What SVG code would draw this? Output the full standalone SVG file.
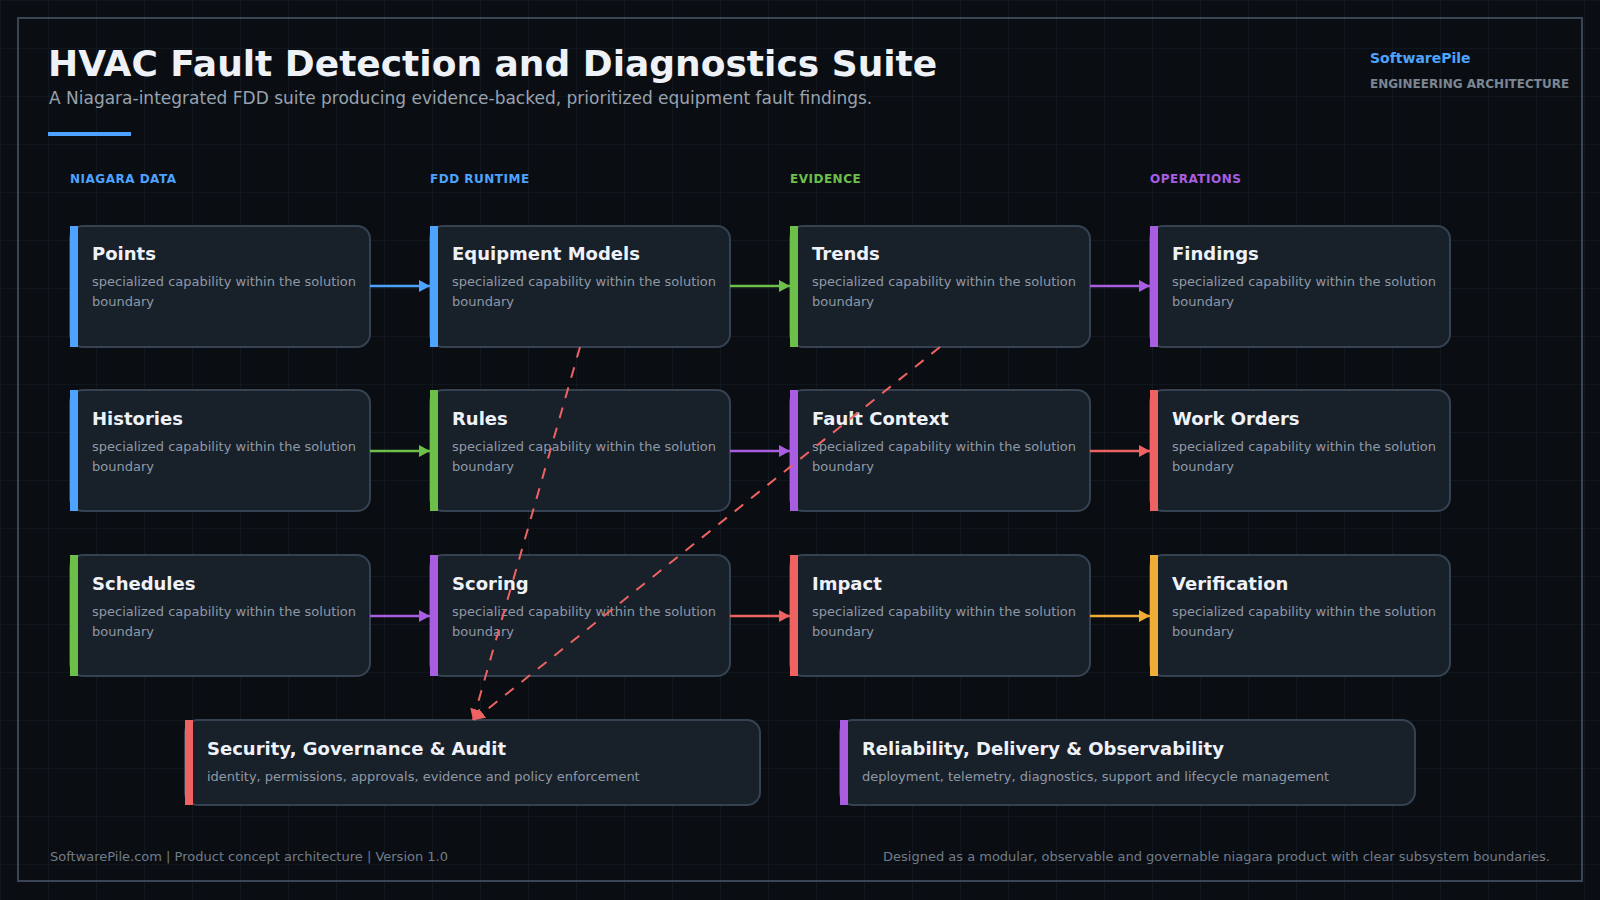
<svg xmlns="http://www.w3.org/2000/svg" width="1600" height="900" viewBox="0 0 1600 900">
  <defs>
    <pattern id="grid" width="48" height="48" patternUnits="userSpaceOnUse">
      <path d="M48 0 H0 V48" fill="none" stroke="#151e28" stroke-width="1.2"/>
    </pattern>
    <marker id="ah-blue" markerUnits="userSpaceOnUse" markerWidth="12" markerHeight="12" refX="11" refY="6" orient="auto"><path d="M0,0 L11,6 L0,12 z" fill="#4da3ff"/></marker>
    <marker id="ah-green" markerUnits="userSpaceOnUse" markerWidth="12" markerHeight="12" refX="11" refY="6" orient="auto"><path d="M0,0 L11,6 L0,12 z" fill="#6cc04a"/></marker>
    <marker id="ah-purple" markerUnits="userSpaceOnUse" markerWidth="12" markerHeight="12" refX="11" refY="6" orient="auto"><path d="M0,0 L11,6 L0,12 z" fill="#a95ee2"/></marker>
    <marker id="ah-red" markerUnits="userSpaceOnUse" markerWidth="12" markerHeight="12" refX="11" refY="6" orient="auto"><path d="M0,0 L11,6 L0,12 z" fill="#ee6361"/></marker>
    <marker id="ah-orange" markerUnits="userSpaceOnUse" markerWidth="12" markerHeight="12" refX="11" refY="6" orient="auto"><path d="M0,0 L11,6 L0,12 z" fill="#f0ad35"/></marker>
  </defs>
  <style>
    text { font-family: "DejaVu Sans", Verdana, sans-serif; }
    .title { font-size: 36px; font-weight: bold; fill: #eef2f7; }
    .subtitle { font-size: 17px; fill: #98a2ae; }
    .brand { font-size: 14px; font-weight: bold; fill: #4da3ff; }
    .brand2 { font-size: 12px; font-weight: bold; fill: #7c8693; }
    .colhead { font-size: 12px; font-weight: bold; letter-spacing: 0.5px; }
    .card { fill: #18202a; stroke: #354251; stroke-width: 2; }
    .ctitle { font-size: 18px; font-weight: bold; fill: #eef2f8; }
    .cdesc { font-size: 13px; fill: #8e99a6; }
    .footer { font-size: 13px; fill: #717c89; }
    .blue { fill: #4da3ff; }
    .green { fill: #6cc04a; }
    .purple { fill: #a95ee2; }
    .red { fill: #ee6361; }
    .orange { fill: #f0ad35; }
    .conn { fill: none; stroke-width: 2.6; }
    .dash { fill: none; stroke: #ee6361; stroke-width: 2; stroke-dasharray: 11 10; }
  </style>

  <rect x="0" y="0" width="1600" height="900" fill="#0a0e13"/>
  <rect x="0" y="0" width="1600" height="900" fill="url(#grid)"/>
  <rect x="18" y="18" width="1564" height="863" fill="none" stroke="#3a4656" stroke-width="2"/>

  <g id="header">
    <text class="title" x="48" y="76">HVAC Fault Detection and Diagnostics Suite</text>
    <text class="subtitle" x="49" y="104">A Niagara-integrated FDD suite producing evidence-backed, prioritized equipment fault findings.</text>
    <rect x="48" y="132" width="83" height="4" fill="#4da3ff"/>
    <text class="brand" x="1370" y="63">SoftwarePile</text>
    <text class="brand2" x="1370" y="88">ENGINEERING ARCHITECTURE</text>
  </g>

  <g id="column-headers">
    <text class="colhead blue" x="70" y="183">NIAGARA DATA</text>
    <text class="colhead blue" x="430" y="183">FDD RUNTIME</text>
    <text class="colhead green" x="790" y="183">EVIDENCE</text>
    <text class="colhead purple" x="1150" y="183">OPERATIONS</text>
  </g>

  <g id="nodes">
    <g id="points">
      <rect class="card" x="70" y="226" width="300" height="121" rx="13"/>
      <rect class="blue" x="70" y="226" width="8" height="121"/>
      <text class="ctitle" x="92" y="260">Points</text>
      <text class="cdesc" x="92" y="286">specialized capability within the solution</text>
      <text class="cdesc" x="92" y="306">boundary</text>
    </g>
    <g id="histories">
      <rect class="card" x="70" y="390" width="300" height="121" rx="13"/>
      <rect class="blue" x="70" y="390" width="8" height="121"/>
      <text class="ctitle" x="92" y="425">Histories</text>
      <text class="cdesc" x="92" y="451">specialized capability within the solution</text>
      <text class="cdesc" x="92" y="471">boundary</text>
    </g>
    <g id="schedules">
      <rect class="card" x="70" y="555" width="300" height="121" rx="13"/>
      <rect class="green" x="70" y="555" width="8" height="121"/>
      <text class="ctitle" x="92" y="590">Schedules</text>
      <text class="cdesc" x="92" y="616">specialized capability within the solution</text>
      <text class="cdesc" x="92" y="636">boundary</text>
    </g>

    <g id="equipment-models">
      <rect class="card" x="430" y="226" width="300" height="121" rx="13"/>
      <rect class="blue" x="430" y="226" width="8" height="121"/>
      <text class="ctitle" x="452" y="260">Equipment Models</text>
      <text class="cdesc" x="452" y="286">specialized capability within the solution</text>
      <text class="cdesc" x="452" y="306">boundary</text>
    </g>
    <g id="rules">
      <rect class="card" x="430" y="390" width="300" height="121" rx="13"/>
      <rect class="green" x="430" y="390" width="8" height="121"/>
      <text class="ctitle" x="452" y="425">Rules</text>
      <text class="cdesc" x="452" y="451">specialized capability within the solution</text>
      <text class="cdesc" x="452" y="471">boundary</text>
    </g>
    <g id="scoring">
      <rect class="card" x="430" y="555" width="300" height="121" rx="13"/>
      <rect class="purple" x="430" y="555" width="8" height="121"/>
      <text class="ctitle" x="452" y="590">Scoring</text>
      <text class="cdesc" x="452" y="616">specialized capability within the solution</text>
      <text class="cdesc" x="452" y="636">boundary</text>
    </g>

    <g id="trends">
      <rect class="card" x="790" y="226" width="300" height="121" rx="13"/>
      <rect class="green" x="790" y="226" width="8" height="121"/>
      <text class="ctitle" x="812" y="260">Trends</text>
      <text class="cdesc" x="812" y="286">specialized capability within the solution</text>
      <text class="cdesc" x="812" y="306">boundary</text>
    </g>
    <g id="fault-context">
      <rect class="card" x="790" y="390" width="300" height="121" rx="13"/>
      <rect class="purple" x="790" y="390" width="8" height="121"/>
      <text class="ctitle" x="812" y="425">Fault Context</text>
      <text class="cdesc" x="812" y="451">specialized capability within the solution</text>
      <text class="cdesc" x="812" y="471">boundary</text>
    </g>
    <g id="impact">
      <rect class="card" x="790" y="555" width="300" height="121" rx="13"/>
      <rect class="red" x="790" y="555" width="8" height="121"/>
      <text class="ctitle" x="812" y="590">Impact</text>
      <text class="cdesc" x="812" y="616">specialized capability within the solution</text>
      <text class="cdesc" x="812" y="636">boundary</text>
    </g>

    <g id="findings">
      <rect class="card" x="1150" y="226" width="300" height="121" rx="13"/>
      <rect class="purple" x="1150" y="226" width="8" height="121"/>
      <text class="ctitle" x="1172" y="260">Findings</text>
      <text class="cdesc" x="1172" y="286">specialized capability within the solution</text>
      <text class="cdesc" x="1172" y="306">boundary</text>
    </g>
    <g id="work-orders">
      <rect class="card" x="1150" y="390" width="300" height="121" rx="13"/>
      <rect class="red" x="1150" y="390" width="8" height="121"/>
      <text class="ctitle" x="1172" y="425">Work Orders</text>
      <text class="cdesc" x="1172" y="451">specialized capability within the solution</text>
      <text class="cdesc" x="1172" y="471">boundary</text>
    </g>
    <g id="verification">
      <rect class="card" x="1150" y="555" width="300" height="121" rx="13"/>
      <rect class="orange" x="1150" y="555" width="8" height="121"/>
      <text class="ctitle" x="1172" y="590">Verification</text>
      <text class="cdesc" x="1172" y="616">specialized capability within the solution</text>
      <text class="cdesc" x="1172" y="636">boundary</text>
    </g>

    <g id="security">
      <rect class="card" x="185" y="720" width="575" height="85" rx="13"/>
      <rect class="red" x="185" y="720" width="8" height="85"/>
      <text class="ctitle" x="207" y="755">Security, Governance &amp; Audit</text>
      <text class="cdesc" x="207" y="781">identity, permissions, approvals, evidence and policy enforcement</text>
    </g>
    <g id="reliability">
      <rect class="card" x="840" y="720" width="575" height="85" rx="13"/>
      <rect class="purple" x="840" y="720" width="8" height="85"/>
      <text class="ctitle" x="862" y="755">Reliability, Delivery &amp; Observability</text>
      <text class="cdesc" x="862" y="781">deployment, telemetry, diagnostics, support and lifecycle management</text>
    </g>
  </g>

  <g id="connectors">
    <line class="conn" x1="370" y1="286" x2="430" y2="286" stroke="#4da3ff" marker-end="url(#ah-blue)"/>
    <line class="conn" x1="730" y1="286" x2="790" y2="286" stroke="#6cc04a" marker-end="url(#ah-green)"/>
    <line class="conn" x1="1090" y1="286" x2="1150" y2="286" stroke="#a95ee2" marker-end="url(#ah-purple)"/>
    <line class="conn" x1="370" y1="451" x2="430" y2="451" stroke="#6cc04a" marker-end="url(#ah-green)"/>
    <line class="conn" x1="730" y1="451" x2="790" y2="451" stroke="#a95ee2" marker-end="url(#ah-purple)"/>
    <line class="conn" x1="1090" y1="451" x2="1150" y2="451" stroke="#ee6361" marker-end="url(#ah-red)"/>
    <line class="conn" x1="370" y1="616" x2="430" y2="616" stroke="#a95ee2" marker-end="url(#ah-purple)"/>
    <line class="conn" x1="730" y1="616" x2="790" y2="616" stroke="#ee6361" marker-end="url(#ah-red)"/>
    <line class="conn" x1="1090" y1="616" x2="1150" y2="616" stroke="#f0ad35" marker-end="url(#ah-orange)"/>
    <line class="dash" x1="580" y1="347" x2="473" y2="720" marker-end="url(#ah-red)"/>
    <line class="dash" x1="940" y1="347" x2="474" y2="720" marker-end="url(#ah-red)"/>
  </g>

  <g id="footer">
    <text class="footer" x="50" y="861">SoftwarePile.com | Product concept architecture | Version 1.0</text>
    <text class="footer" x="1550" y="861" text-anchor="end">Designed as a modular, observable and governable niagara product with clear subsystem boundaries.</text>
  </g>
</svg>
